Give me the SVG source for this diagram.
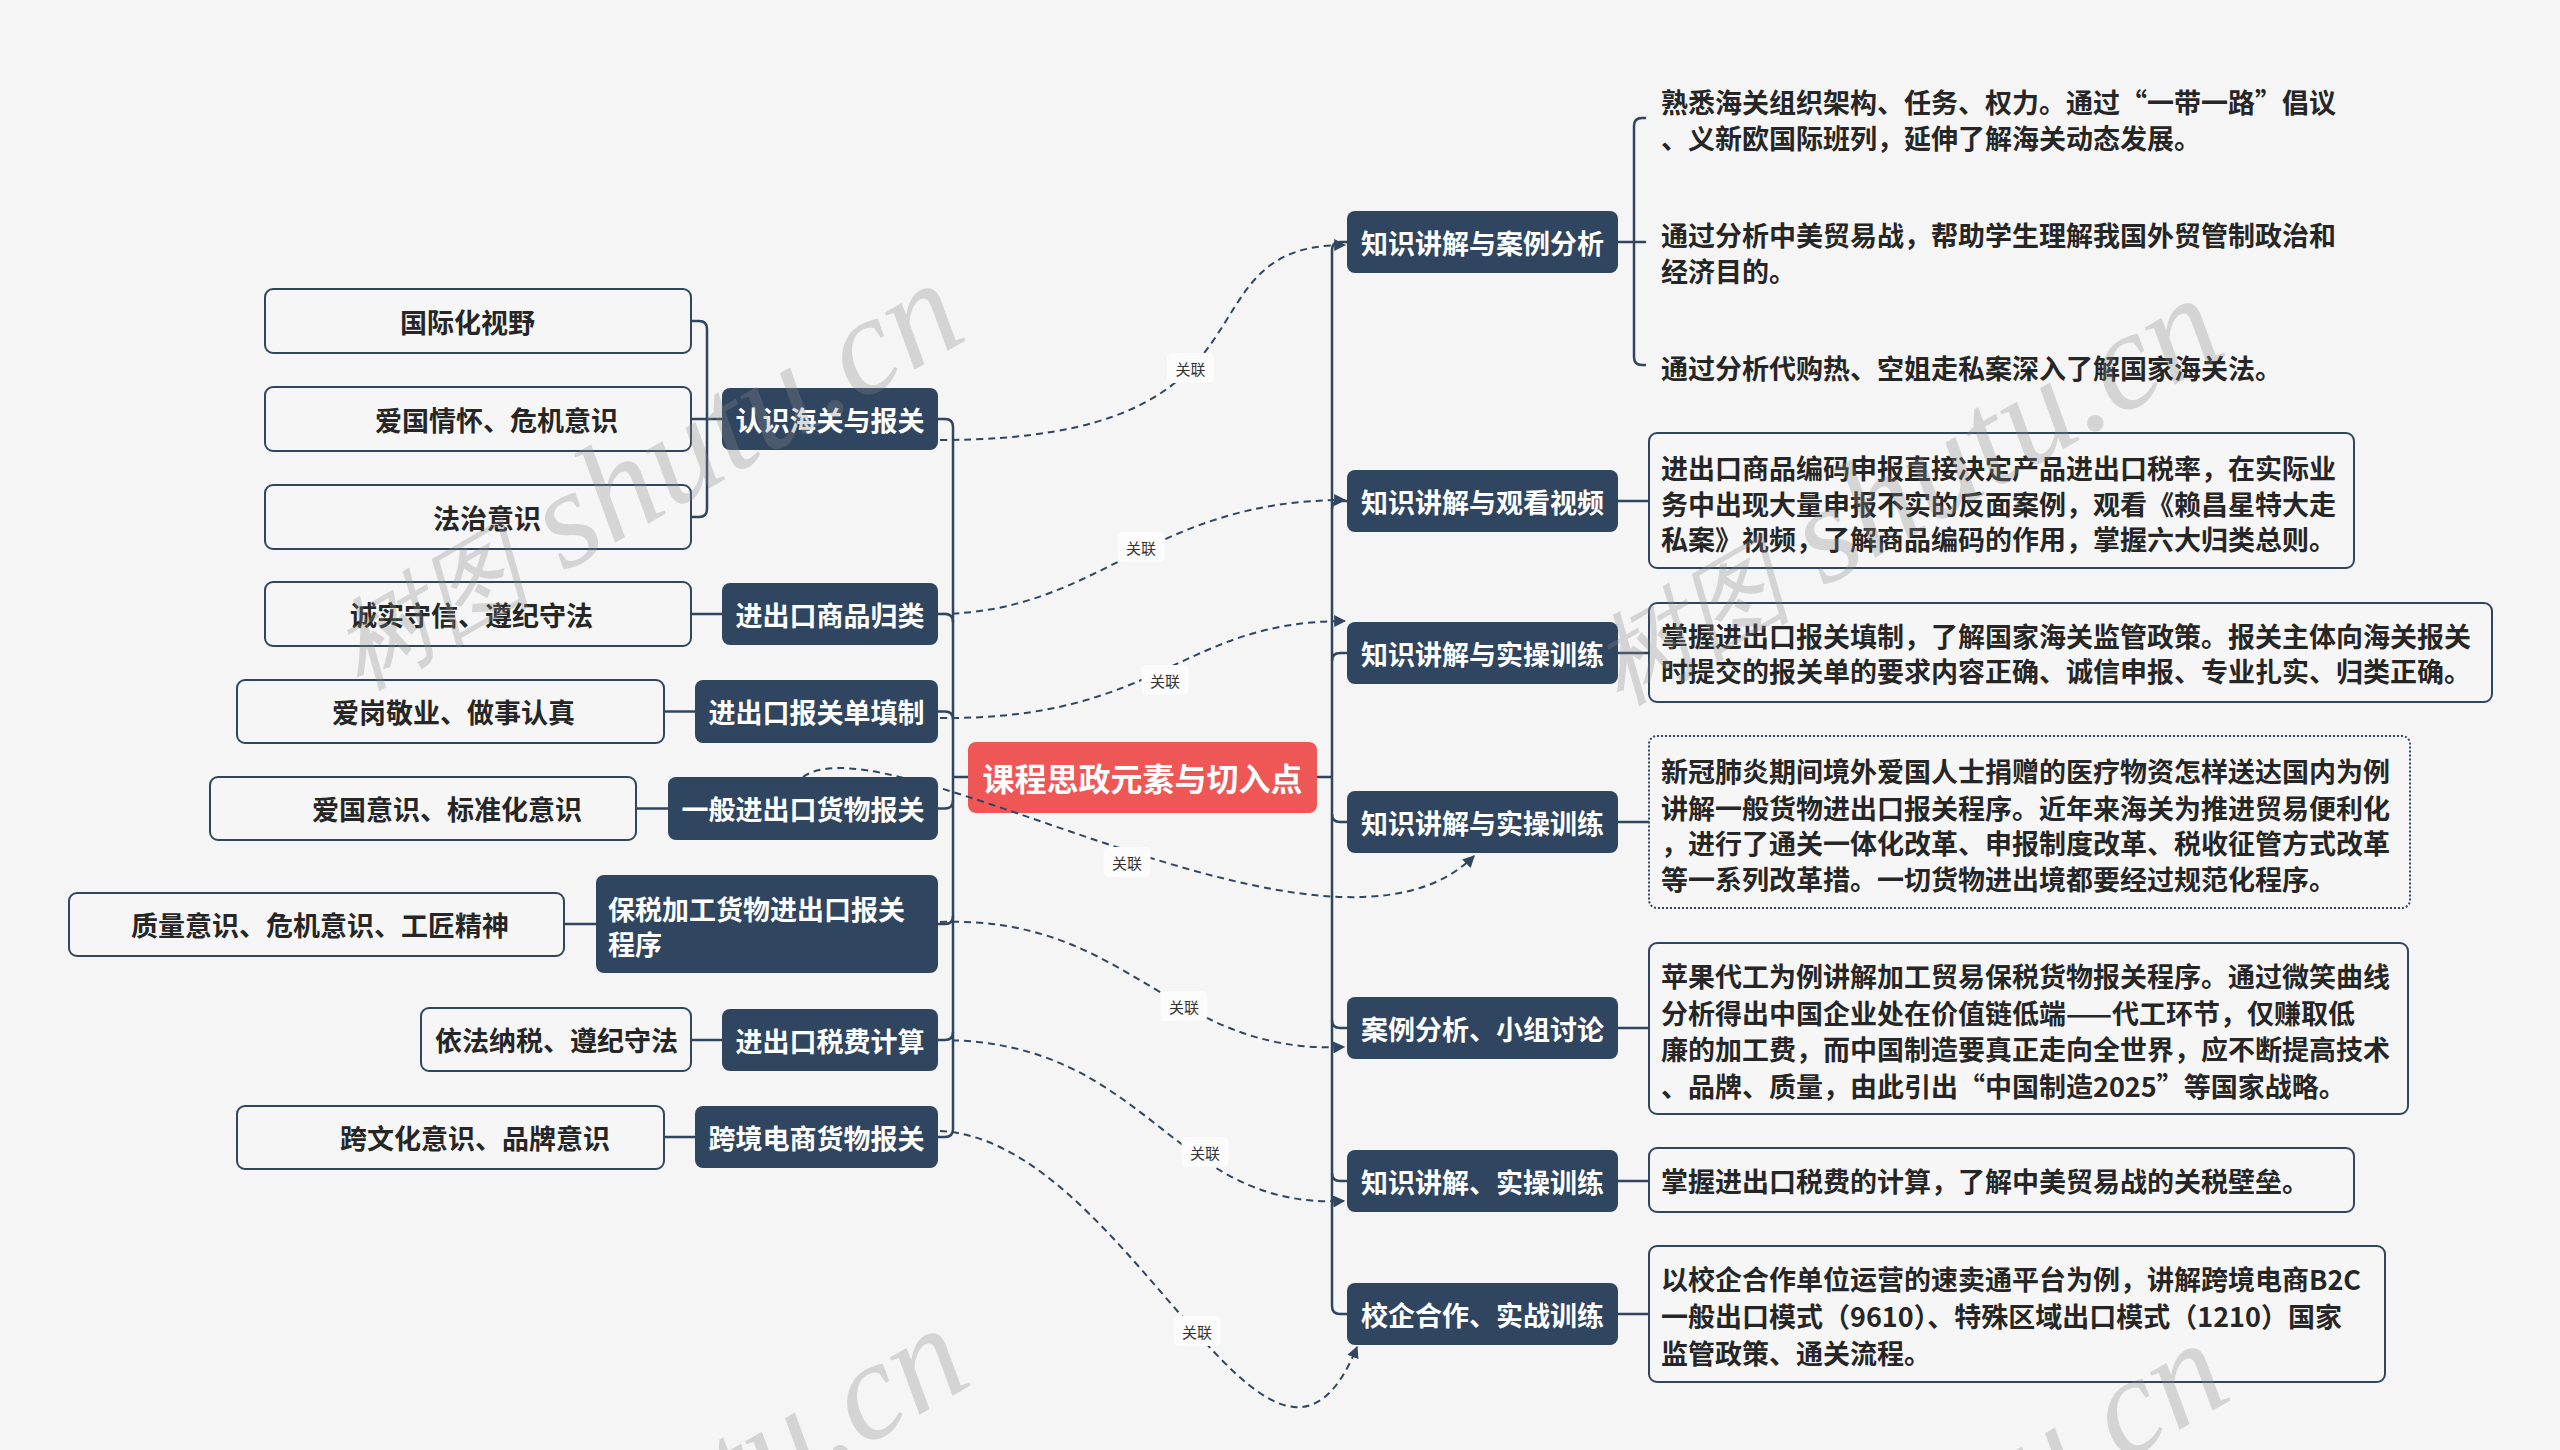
<svg xmlns="http://www.w3.org/2000/svg" width="2560" height="1450" viewBox="0 0 2560 1450">
<defs>
<style>
.dk rect{fill:#2f4560;}
.dk text{fill:#ffffff;font-family:"Noto Sans CJK SC","Noto Sans",sans-serif;font-weight:700;font-size:27px;dominant-baseline:central;}
.leaf rect{fill:#f6f6f6;stroke:#2f4560;stroke-width:2;}
.leaf text,.tl text{fill:#262626;font-family:"Noto Sans CJK SC","Noto Sans",sans-serif;font-weight:700;font-size:27px;dominant-baseline:central;}
.ln{fill:none;stroke:#2f4560;stroke-width:2.5;}
.rel{fill:none;stroke:#2f4560;stroke-width:2;stroke-dasharray:7 5;marker-end:url(#arr);}
.lbl rect{fill:#fcfcfc;}
.lbl text{fill:#333333;font-family:"Noto Sans CJK SC","Noto Sans",sans-serif;font-size:15px;text-anchor:middle;dominant-baseline:central;}
.mid{text-anchor:middle;}
.wm{fill:#8a8a8a;opacity:0.3;font-family:"Liberation Serif",serif;font-style:italic;}
</style>
<marker id="arr" viewBox="0 0 10 10" refX="9" refY="5" markerWidth="12" markerHeight="12" markerUnits="userSpaceOnUse" orient="auto"><path d="M0,0 L10,5 L0,10 z" fill="#2f4560"/></marker>
</defs>
<rect width="2560" height="1450" fill="#f5f5f5"/>

<g id="tree-lines">
<path class="ln" d="M953,427 V1129"/>
<path class="ln" d="M938,419 H945 Q953,419 953,427"/>
<path class="ln" d="M938,614 H945 Q953,614 953,622"/>
<path class="ln" d="M938,711.5 H945 Q953,711.5 953,719.5"/>
<path class="ln" d="M938,808.5 H945 Q953,808.5 953,800.5"/>
<path class="ln" d="M938,924 H945 Q953,924 953,916"/>
<path class="ln" d="M938,1040 H945 Q953,1040 953,1032"/>
<path class="ln" d="M938,1137 H945 Q953,1137 953,1129"/>
<path class="ln" d="M953,777 H968"/>
<path class="ln" d="M1317,777 H1332"/>
<path class="ln" d="M1332,250 V1306"/>
<path class="ln" d="M1332,250 Q1332,242 1340,242 H1347"/>
<path class="ln" d="M1332,509 Q1332,501 1340,501 H1347"/>
<path class="ln" d="M1332,661 Q1332,653 1340,653 H1347"/>
<path class="ln" d="M1332,814 Q1332,822 1340,822 H1347"/>
<path class="ln" d="M1332,1020 Q1332,1028 1340,1028 H1347"/>
<path class="ln" d="M1332,1173 Q1332,1181 1340,1181 H1347"/>
<path class="ln" d="M1332,1306 Q1332,1314 1340,1314 H1347"/>
<path class="ln" d="M691,321 H699 Q707,321 707,329 V509 Q707,517 699,517 H691"/>
<path class="ln" d="M691,419 H722"/>
<path class="ln" d="M691,614 H722"/>
<path class="ln" d="M664,711.5 H695"/>
<path class="ln" d="M636,808.5 H668"/>
<path class="ln" d="M564,924 H596"/>
<path class="ln" d="M691,1040 H722"/>
<path class="ln" d="M664,1137 H695"/>
<path class="ln" d="M1646,118 H1642 Q1634,118 1634,126 V357 Q1634,365 1642,365 H1646"/>
<path class="ln" d="M1618,242 H1646"/>
<path class="ln" d="M1618,501 H1649"/>
<path class="ln" d="M1618,653 H1649"/>
<path class="ln" d="M1618,822 H1649"/>
<path class="ln" d="M1618,1028 H1649"/>
<path class="ln" d="M1618,1181 H1649"/>
<path class="ln" d="M1618,1314 H1649"/>
</g>

<g id="center" class="root">
<rect x="968" y="742" width="349" height="71" rx="8" fill="#ef5656"/>
<text x="1142.5" y="777" text-anchor="middle" dominant-baseline="central" fill="#ffffff" font-family="Noto Sans CJK SC, sans-serif" font-weight="700" font-size="32">课程思政元素与切入点</text>
</g>

<g id="l1" class="dk"><rect x="722" y="388" width="216" height="62" rx="8"/><text class="mid" x="830" y="419">认识海关与报关</text></g>
<g id="l2" class="dk"><rect x="722" y="583" width="216" height="62" rx="8"/><text class="mid" x="830" y="614">进出口商品归类</text></g>
<g id="l3" class="dk"><rect x="695" y="680" width="243" height="63" rx="8"/><text class="mid" x="816.5" y="711.5">进出口报关单填制</text></g>
<g id="l4" class="dk"><rect x="668" y="777" width="270" height="63" rx="8"/><text class="mid" x="803" y="808.5">一般进出口货物报关</text></g>
<g id="l5" class="dk"><rect x="596" y="875" width="342" height="98" rx="8"/><text x="608" y="908">保税加工货物进出口报关</text><text x="608" y="943">程序</text></g>
<g id="l6" class="dk"><rect x="722" y="1009" width="216" height="62" rx="8"/><text class="mid" x="830" y="1040">进出口税费计算</text></g>
<g id="l7" class="dk"><rect x="695" y="1106" width="243" height="62" rx="8"/><text class="mid" x="816.5" y="1137">跨境电商货物报关</text></g>

<g id="ll1" class="leaf"><rect x="265" y="289" width="426" height="64" rx="8"/><text x="400" y="321">国际化视野</text></g>
<g id="ll2" class="leaf"><rect x="265" y="387" width="426" height="64" rx="8"/><text x="375" y="419">爱国情怀、危机意识</text></g>
<g id="ll3" class="leaf"><rect x="265" y="485" width="426" height="64" rx="8"/><text x="433" y="517">法治意识</text></g>
<g id="ll4" class="leaf"><rect x="265" y="582" width="426" height="64" rx="8"/><text x="350" y="614">诚实守信、遵纪守法</text></g>
<g id="ll5" class="leaf"><rect x="237" y="680" width="427" height="63" rx="8"/><text x="332" y="711.5">爱岗敬业、做事认真</text></g>
<g id="ll6" class="leaf"><rect x="210" y="777" width="426" height="63" rx="8"/><text x="312" y="808.5">爱国意识、标准化意识</text></g>
<g id="ll7" class="leaf"><rect x="69" y="893" width="495" height="63" rx="8"/><text x="131" y="924.5">质量意识、危机意识、工匠精神</text></g>
<g id="ll8" class="leaf"><rect x="421" y="1008" width="270" height="63" rx="8"/><text x="435" y="1039.5">依法纳税、遵纪守法</text></g>
<g id="ll9" class="leaf"><rect x="237" y="1106" width="427" height="63" rx="8"/><text x="340" y="1137.5">跨文化意识、品牌意识</text></g>

<g id="r1" class="dk"><rect x="1347" y="211" width="271" height="62" rx="8"/><text class="mid" x="1482.5" y="242">知识讲解与案例分析</text></g>
<g id="r2" class="dk"><rect x="1347" y="470" width="271" height="62" rx="8"/><text class="mid" x="1482.5" y="501">知识讲解与观看视频</text></g>
<g id="r3" class="dk"><rect x="1347" y="622" width="271" height="62" rx="8"/><text class="mid" x="1482.5" y="653">知识讲解与实操训练</text></g>
<g id="r4" class="dk"><rect x="1347" y="791" width="271" height="62" rx="8"/><text class="mid" x="1482.5" y="822">知识讲解与实操训练</text></g>
<g id="r5" class="dk"><rect x="1347" y="997" width="271" height="62" rx="8"/><text class="mid" x="1482.5" y="1028">案例分析、小组讨论</text></g>
<g id="r6" class="dk"><rect x="1347" y="1150" width="271" height="62" rx="8"/><text class="mid" x="1482.5" y="1181">知识讲解、实操训练</text></g>
<g id="r7" class="dk"><rect x="1347" y="1283" width="271" height="62" rx="8"/><text class="mid" x="1482.5" y="1314">校企合作、实战训练</text></g>

<g id="rt1" class="tl"><text x="1661" y="101">熟悉海关组织架构、任务、权力。通过“一带一路”倡议</text><text x="1661" y="137">、义新欧国际班列，延伸了解海关动态发展。</text></g>
<g id="rt2" class="tl"><text x="1661" y="234">通过分析中美贸易战，帮助学生理解我国外贸管制政治和</text><text x="1661" y="270">经济目的。</text></g>
<g id="rt3" class="tl"><text x="1661" y="367">通过分析代购热、空姐走私案深入了解国家海关法。</text></g>

<g id="rl2" class="leaf"><rect x="1649" y="433" width="705" height="135" rx="8"/><text x="1661" y="467">进出口商品编码申报直接决定产品进出口税率，在实际业</text><text x="1661" y="503">务中出现大量申报不实的反面案例，观看《赖昌星特大走</text><text x="1661" y="538">私案》视频，了解商品编码的作用，掌握六大归类总则。</text></g>
<g id="rl3" class="leaf"><rect x="1649" y="603" width="843" height="99" rx="8"/><text x="1661" y="635">掌握进出口报关填制，了解国家海关监管政策。报关主体向海关报关</text><text x="1661" y="670">时提交的报关单的要求内容正确、诚信申报、专业扎实、归类正确。</text></g>
<g id="rl4" class="leaf"><rect x="1649" y="736" width="761" height="172" rx="8" stroke-dasharray="2 2" stroke-width="1.5"/><text x="1661" y="770">新冠肺炎期间境外爱国人士捐赠的医疗物资怎样送达国内为例</text><text x="1661" y="807">讲解一般货物进出口报关程序。近年来海关为推进贸易便利化</text><text x="1661" y="842">，进行了通关一体化改革、申报制度改革、税收征管方式改革</text><text x="1661" y="878">等一系列改革措。一切货物进出境都要经过规范化程序。</text></g>
<g id="rl5" class="leaf"><rect x="1649" y="943" width="759" height="171" rx="8"/><text x="1661" y="975">苹果代工为例讲解加工贸易保税货物报关程序。通过微笑曲线</text><text x="1661" y="1012">分析得出中国企业处在价值链低端——代工环节，仅赚取低</text><text x="1661" y="1048">廉的加工费，而中国制造要真正走向全世界，应不断提高技术</text><text x="1661" y="1085">、品牌、质量，由此引出“中国制造2025”等国家战略。</text></g>
<g id="rl6" class="leaf"><rect x="1649" y="1148" width="705" height="64" rx="8"/><text x="1661" y="1180">掌握进出口税费的计算，了解中美贸易战的关税壁垒。</text></g>
<g id="rl7" class="leaf"><rect x="1649" y="1246" width="736" height="136" rx="8"/><text x="1661" y="1278">以校企合作单位运营的速卖通平台为例，讲解跨境电商B2C</text><text x="1661" y="1315">一般出口模式（9610）、特殊区域出口模式（1210）国家</text><text x="1661" y="1352">监管政策、通关流程。</text></g>

<g id="relations">
<path class="rel" d="M940,440 C1300,440 1170,245 1345,245"/>
<path class="rel" d="M940,614 C1100,612 1150,500 1345,500"/>
<path class="rel" d="M940,718 C1160,720 1180,621 1345,621"/>
<path class="rel" d="M803,777 C890,715 1330,1000 1474,856"/>
<path class="rel" d="M940,922 C1130,915 1170,1055 1344,1047"/>
<path class="rel" d="M940,1040 C1150,1040 1170,1210 1344,1201"/>
<path class="rel" d="M940,1131 C1130,1140 1270,1560 1357,1347"/>
<g class="lbl"><rect x="1167" y="353" width="47" height="30" rx="5"/><text x="1190.5" y="368">关联</text></g>
<g class="lbl"><rect x="1117.5" y="532" width="47" height="30" rx="5"/><text x="1141" y="547">关联</text></g>
<g class="lbl"><rect x="1141.5" y="665" width="47" height="30" rx="5"/><text x="1165" y="680">关联</text></g>
<g class="lbl"><rect x="1103.5" y="847" width="47" height="30" rx="5"/><text x="1127" y="862">关联</text></g>
<g class="lbl"><rect x="1160.5" y="991" width="47" height="30" rx="5"/><text x="1184" y="1006">关联</text></g>
<g class="lbl"><rect x="1181.5" y="1137" width="47" height="30" rx="5"/><text x="1205" y="1152">关联</text></g>
<g class="lbl"><rect x="1173.5" y="1316" width="47" height="30" rx="5"/><text x="1197" y="1331">关联</text></g>
</g>

<g id="watermark">
<text class="wm" transform="translate(360,690) rotate(-30)"><tspan font-size="100">树图</tspan><tspan font-size="140"> shutu.cn</tspan></text>
<text class="wm" transform="translate(1620,705) rotate(-30)"><tspan font-size="100">树图</tspan><tspan font-size="140"> shutu.cn</tspan></text>
<text class="wm" transform="translate(365,1735) rotate(-30)"><tspan font-size="100">树图</tspan><tspan font-size="140"> shutu.cn</tspan></text>
<text class="wm" transform="translate(1625,1750) rotate(-30)"><tspan font-size="100">树图</tspan><tspan font-size="140"> shutu.cn</tspan></text>
</g>
</svg>
